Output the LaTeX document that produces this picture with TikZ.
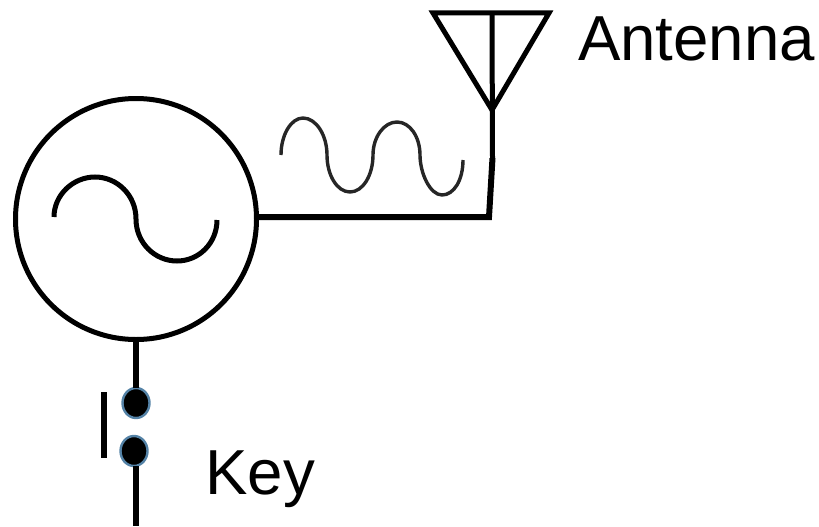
\documentclass[tikz,border=0pt]{standalone}
\usepackage{fontspec}
\setmainfont{Liberation Sans}
\usepackage{tikz}
\usetikzlibrary{shapes}
\definecolor{dotblue}{RGB}{84,130,166}

\begin{document}
\begin{tikzpicture}[x=1pt,y=-1pt,line width=5pt]
  \tikzstyle{source}=[circle,draw=black,line width=5pt,minimum size=241pt,inner sep=0pt,outer sep=0pt]
  \tikzstyle{contact}=[ellipse,draw=dotblue,fill=black,line width=2.4pt,minimum width=27pt,minimum height=30pt,inner sep=0pt,outer sep=0pt]
  \tikzstyle{caption}=[anchor=base west,font=\fontsize{63.6}{64}\selectfont,inner sep=0pt]
  \tikzstyle{wave}=[line width=3.4pt,black!85]

  \useasboundingbox (0,0) rectangle (819,527);

  \node [source] (osc) at (136,219) {};
  \node [contact] (k1) at (136,403) {};
  \node [contact] (k2) at (134,451) {};
  \coordinate (kend) at (136,526);
  \coordinate (bartop) at (104,392);
  \coordinate (barend) at (104,458);

  \coordinate (apex) at (492,110);
  \coordinate (tipl) at (433,13);
  \coordinate (tipr) at (549,13);
  \coordinate (mast) at (492,13);
  \coordinate (feed) at (492.5,158);
  \coordinate (corner) at (489,217);

  \node [caption] (ant) at (575.5,60) {Antenna};
  \node [caption] (key) at (203,494) {Key};

  \draw [line width=6pt] (osc.south -| kend) -- (k1.north -| kend);
  \draw [line width=6pt] (k2.south -| kend) -- (kend);
  \draw [line width=6pt] (bartop) -- (barend);

  \draw [line join=miter] (tipl) -- (tipr) -- (apex) -- cycle;
  \draw (mast) -- (feed);
  \draw [line width=6pt,line join=miter] (feed) -- (corner) -- (osc.east |- corner);

  \draw [line width=5pt] (54,217) .. controls (54,195) and (73,177) .. (95,177)
    .. controls (117,177) and (136,195) .. (136,219)
    .. controls (136,243) and (155,261) .. (177,261)
    .. controls (199,261) and (217,243) .. (217,220);
  \draw [wave] (281,155) .. controls (281,135) and (291,118) .. (303,118)
    .. controls (316,118) and (327,135) .. (327,155)
    .. controls (327,175) and (337,192) .. (350,192)
    .. controls (363,192) and (373,175) .. (373,155)
    .. controls (373,137) and (384,122) .. (397,122)
    .. controls (410,122) and (420,137) .. (420,155)
    .. controls (420,173) and (430,195) .. (442,195)
    .. controls (454,195) and (463,180) .. (463,160);
\end{tikzpicture}
\end{document}
